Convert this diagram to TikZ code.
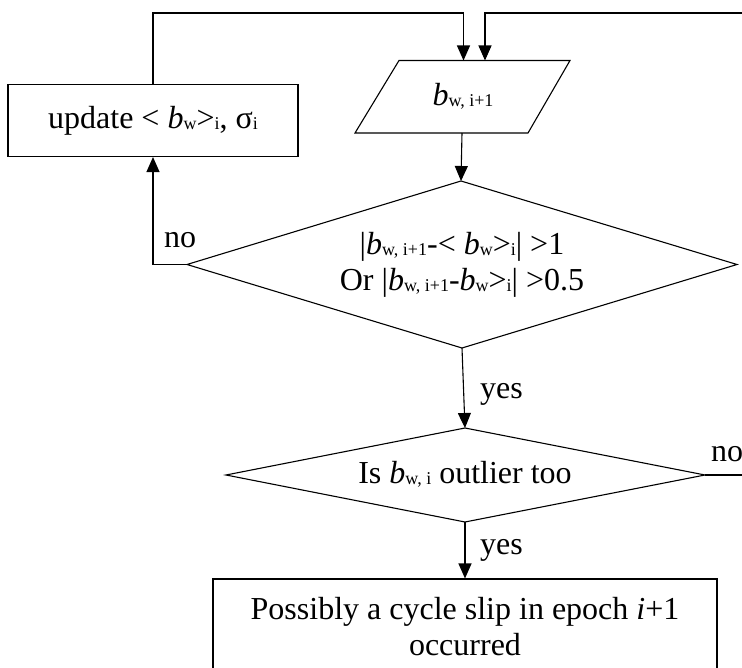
\documentclass[tikz,border=0pt]{standalone}
\usepackage{fontspec}
\setmainfont{Liberation Serif}
\usetikzlibrary{arrows.meta,calc}
% small baseline-level index text
\newcommand{\idx}[1]{\raisebox{-1pt}{\fontsize{18}{18}\selectfont #1}}
\tikzset{
  txt/.style={font=\fontsize{32}{36}\selectfont, inner sep=0pt, align=center},
  procbox/.style={txt, draw=black, line width=1.1pt, rectangle},
  arr/.style={line width=1.1pt, -{Triangle[length=15pt,width=13pt]}},
  ln/.style={line width=1.1pt, line join=miter}
}
\begin{document}
\begin{tikzpicture}[x=1pt,y=-1pt]
\useasboundingbox (0,0) rectangle (742,668);
\clip (0,0) rectangle (742,668);

% update step
\node[procbox, minimum width=290pt, minimum height=72pt] (upd) at (153,120.5)
  {update < \textit{b}\idx{w}>\idx{i}, σ\idx{i}};

% input parallelogram
\coordinate (pbl) at (355,133);
\coordinate (pbr) at (528,133);
\coordinate (ptr) at (570,60.5);
\coordinate (ptl) at (399,60.5);
\draw[ln] (pbl) -- (pbr) -- (ptr) -- (ptl) -- cycle;
\node[txt] (inp) at (463,96.5) {\textit{b}\idx{w, i+1}};
\coordinate (pin1) at (463.5,60.5);
\coordinate (pin2) at (485,60.5);
\coordinate (pout) at (462,133);
\coordinate (topy) at (0,13);
\coordinate (rtop) at (760,13);

% first decision
\coordinate (d1n) at (461,181);
\coordinate (d1e) at (737,264.5);
\coordinate (d1s) at (462,348);
\coordinate (d1w) at (187,264.5);
\draw[ln] (d1n) -- (d1e) -- (d1s) -- (d1w) -- cycle;
\node[txt] (d1) at (462,265)
  {|\textit{b}\idx{w, i+1}-< \textit{b}\idx{w}>\idx{i}| >1\\
   Or |\textit{b}\idx{w, i+1}-\textit{b}\idx{w}>\idx{i}| >0.5};

% second decision
\coordinate (d2n) at (465,428);
\coordinate (d2e) at (705,475);
\coordinate (d2s) at (465,522);
\coordinate (d2w) at (226,475);
\draw[ln] (d2n) -- (d2e) -- (d2s) -- (d2w) -- cycle;
\node[txt] (d2) at (465,474) {Is \textit{b}\idx{w, i} outlier too};
\coordinate (rno) at (760,475);

% result
\node[procbox, minimum width=504pt, minimum height=96pt] (res) at (465,627)
  {Possibly a cycle slip in epoch \textit{i}+1\\occurred};

% connectors
\draw[arr] (upd.south |- upd.north) |- (pin1 |- topy) -- (pin1);
\draw[arr] (rtop) -| (pin2);
\draw[arr] (pout) -- (d1n);
\draw[arr] (d1w) -| (upd.south);
\draw[arr] (d1s) -- (d2n);
\draw[ln] (d2e) -- (rno);
\draw[arr] (d2s) -- (res.north);

% branch labels
\node[txt] (no1) at (180,240) {no};
\node[txt, anchor=west] (yes1) at (480,394) {yes};
\node[txt, anchor=west] (no2) at (711,454) {no};
\node[txt, anchor=west] (yes2) at (480,550) {yes};
\end{tikzpicture}
\end{document}
